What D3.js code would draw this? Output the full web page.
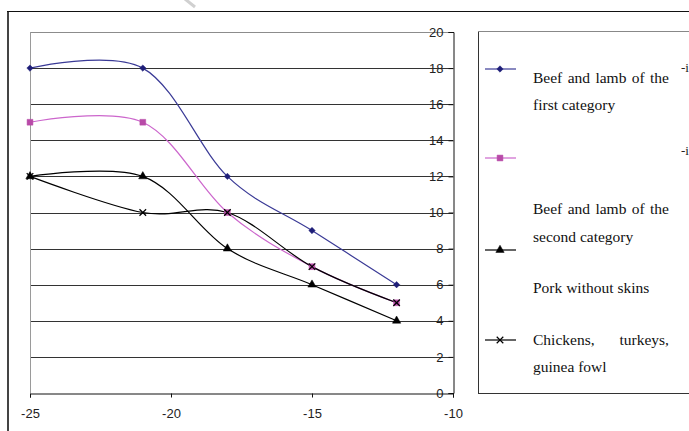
<!DOCTYPE html>
<html>
<head>
<meta charset="utf-8">
<script src="https://cdn.jsdelivr.net/npm/d3@7"></script>
<style>
   body { margin: 0; background: #fff; }
   svg { display: block; }
</style>
</head>
<body>
<div id="chart"></div>
<script>
// Temperatures on the x axis, storage months on the y axis
const temps = [-25, -21, -18, -15, -12];
const beefFirst = [18, 18, 12, 9, 6];
const beefSecond = [15, 15, 10, 7, 5];
const pork = [12, 12, 8, 6, 4];
const poultry = [12, 10, 10, 7, 5];

const xTicks = [-25, -20, -15, -10];
const yTicks = [0, 2, 4, 6, 8, 10, 12, 14, 16, 18, 20];

const series = [
   { values: beefFirst, line: "#3a3a96", mark: "#1e1e78", symbol: d3.symbolDiamond2, size: 26 },
   { values: beefSecond, line: "#cc66cc", mark: "#b84aa8", symbol: d3.symbolSquare, size: 34 },
   { values: pork, line: "#000", mark: "#000", symbol: d3.symbolTriangle, size: 30 },
   { values: poultry, line: "#000", mark: "#000", symbol: d3.symbolX, size: 30 },
];

const width = 689, height = 431;
const plot = { left: 30, right: 453, top: 32, bottom: 393 };

const svg = d3.select("#chart").append("svg")
   .attr("width", width)
   .attr("height", height);

const x = d3.scaleLinear().domain([-25, -10]).range([plot.left, plot.right]);
const y = d3.scaleLinear().domain([0, 20]).range([plot.bottom, plot.top]);

// Outer chart frame (only left and top show)
svg.append("line")
   .attr("x1", 8).attr("x2", 8).attr("y1", 11).attr("y2", height)
   .attr("stroke", "#444").attr("stroke-width", 2);
svg.append("line")
   .attr("x1", 7).attr("x2", width).attr("y1", 11.5).attr("y2", 11.5)
   .attr("stroke", "#111").attr("stroke-width", 1);

// faint stroke at the top edge
svg.append("line")
   .attr("x1", 185).attr("y1", -1).attr("x2", 195).attr("y2", 7)
   .attr("stroke", "#d0d0d0").attr("stroke-width", 3);

// Gridlines
svg.append("g")
   .selectAll("line")
   .data(yTicks.filter(d => d > 0))
   .join("line")
   .attr("x1", plot.left).attr("x2", plot.right)
   .attr("y1", d => Math.round(y(d)) + 0.5).attr("y2", d => Math.round(y(d)) + 0.5)
   .attr("stroke", d => d === 20 ? "#8c8c8c" : "#333")
   .attr("stroke-width", 1);

// Left edge of plot area
svg.append("line")
   .attr("x1", plot.left + 0.5).attr("x2", plot.left + 0.5)
   .attr("y1", plot.top).attr("y2", plot.bottom)
   .attr("stroke", "#9a9a9a");

// Y axis on the right, labels inside
const yAxis = svg.append("g")
   .attr("transform", `translate(${plot.right + 0.5},0)`)
   .call(d3.axisLeft(y).tickValues(yTicks).tickSize(5).tickPadding(5).tickFormat(d => d));
yAxis.select(".domain").attr("stroke", "#111");
yAxis.selectAll("line").attr("stroke", "#111");
yAxis.selectAll("text")
   .attr("font-family", "Liberation Sans, Arial, sans-serif")
   .attr("font-size", 13)
   .attr("fill", "#222");

// X axis
const xAxis = svg.append("g")
   .attr("transform", `translate(0,${plot.bottom + 0.5})`)
   .call(d3.axisBottom(x).tickValues(xTicks).tickSize(4).tickPadding(11).tickFormat(d => String(d)));
xAxis.select(".domain").attr("stroke", "#111");
xAxis.selectAll("line").attr("stroke", "#111");
xAxis.selectAll("text")
   .attr("font-family", "Liberation Sans, Arial, sans-serif")
   .attr("font-size", 13)
   .attr("fill", "#222");

// Smoothed lines
const line = d3.line()
   .x((d, i) => x(temps[i]))
   .y(d => y(d))
   .curve(d3.curveCardinal.tension(0));

series.forEach(s => {
   svg.append("path")
      .datum(s.values)
      .attr("fill", "none")
      .attr("stroke", s.line)
      .attr("stroke-width", 1.2)
      .attr("d", line);
});

// Markers
function drawMarker(g, s, cx, cy) {
   const isX = s.symbol === d3.symbolX;
   g.append("path")
      .attr("transform", `translate(${cx},${cy})`)
      .attr("d", d3.symbol(s.symbol, s.size)())
      .attr("fill", isX ? "none" : s.mark)
      .attr("stroke", s.mark)
      .attr("stroke-width", isX ? 1.2 : 0.5);
}

series.forEach(s => {
   const g = svg.append("g");
   s.values.forEach((v, i) => drawMarker(g, s, x(temps[i]), y(v)));
});

// Legend box
const lg = { left: 478, top: 31, bottom: 393 };
svg.append("line")
   .attr("x1", lg.left + 0.5).attr("x2", lg.left + 0.5).attr("y1", lg.top).attr("y2", lg.bottom)
   .attr("stroke", "#333");
svg.append("line")
   .attr("x1", lg.left).attr("x2", width).attr("y1", lg.top + 0.5).attr("y2", lg.top + 0.5)
   .attr("stroke", "#888");
svg.append("line")
   .attr("x1", lg.left).attr("x2", width).attr("y1", lg.bottom + 0.5).attr("y2", lg.bottom + 0.5)
   .attr("stroke", "#333");

// legend keys: series index and y position
const legendKeys = [
   { s: 0, y: 69 },
   { s: 1, y: 158 },
   { s: 2, y: 250 },
   { s: 3, y: 340 },
];
legendKeys.forEach(k => {
   const s = series[k.s];
   svg.append("line")
      .attr("x1", 485).attr("x2", 516).attr("y1", k.y).attr("y2", k.y)
      .attr("stroke", s.line).attr("stroke-width", 1.2);
   drawMarker(svg.append("g"), s, 500, k.y);
});

// legend labels, some lines are justified to the column width
const legendLines = [
   { text: "Beef and lamb of the", y: 83, justify: true },
   { text: "first category", y: 110 },
   { text: "Beef and lamb of the", y: 214, justify: true },
   { text: "second category", y: 242 },
   { text: "Pork without skins", y: 293 },
   { text: "Chickens, turkeys,", y: 345, justify: true },
   { text: "guinea fowl", y: 372 },
];
const textLeft = 533, textRight = 669;
legendLines.forEach(l => {
   const t = svg.append("text")
      .attr("x", textLeft).attr("y", l.y)
      .attr("font-family", "Liberation Serif, Times New Roman, serif")
      .attr("font-size", 15.5)
      .attr("fill", "#111")
      .attr("xml:space", "preserve")
      .text(l.text);
   if (l.justify) {
      const natural = t.node().getComputedTextLength();
      const gaps = l.text.split(" ").length - 1;
      t.attr("word-spacing", (textRight - textLeft - natural) / gaps);
   }
});

// stray characters at the right edge
[72, 155].forEach(yy => {
   svg.append("text")
      .attr("x", 681).attr("y", yy)
      .attr("font-family", "Liberation Serif, Times New Roman, serif")
      .attr("font-size", 13)
      .attr("fill", "#222")
      .text("-i");
});
</script>
</body>
</html>
